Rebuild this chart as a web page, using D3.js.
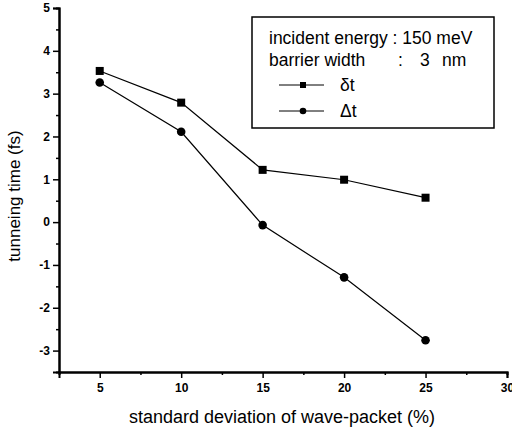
<!DOCTYPE html>
<html>
<head>
<meta charset="utf-8">
<script src="https://cdn.jsdelivr.net/npm/d3@7"></script>
<style>
body { margin: 0; background: #fff; }
svg { font-family: "Liberation Sans", Arial, sans-serif; }
</style>
</head>
<body>
<script>
// values
var deviation = [5, 10, 15, 20, 25];
var deltaSmall = [3.53, 2.79, 1.22, 0.99, 0.57];   // δt, squares
var deltaBig = [3.26, 2.11, -0.07, -1.29, -2.76];  // Δt, circles
var xTicks = [5, 10, 15, 20, 25, 30];
var yTicks = [-3, -2, -1, 0, 1, 2, 3, 4, 5];
var legendLines = ["incident energy : 150 meV", "barrier width"];

var width = 512, height = 434;
var svg = d3.select("body").append("svg")
    .attr("width", width)
    .attr("height", height);

var x = d3.scaleLinear().domain([2.5, 30]).range([59, 507]);
var y = d3.scaleLinear().domain([-3.5, 5]).range([372, 8]);

var fmt = function(d) { return String(d); }; // plain hyphen for negatives

// axes
svg.append("g")
    .attr("transform", "translate(0," + y(-3.5) + ")")
    .call(d3.axisBottom(x).tickValues(xTicks).tickSize(6).tickPadding(5).tickFormat(fmt));
svg.append("g")
    .attr("transform", "translate(0," + y(-3.5) + ")")
    .call(d3.axisBottom(x).tickValues(d3.range(7.5, 30, 5)).tickSize(3).tickFormat(""));
svg.append("g")
    .attr("transform", "translate(" + x(2.5) + ",0)")
    .call(d3.axisLeft(y).tickValues(yTicks).tickSize(6).tickPadding(3).tickFormat(fmt));
svg.append("g")
    .attr("transform", "translate(" + x(2.5) + ",0)")
    .call(d3.axisLeft(y).tickValues(d3.range(-2.5, 5, 1)).tickSize(3).tickFormat(""));

svg.selectAll(".domain").attr("stroke", "#000").attr("stroke-width", 2);
svg.selectAll(".tick line").attr("stroke", "#000").attr("stroke-width", 1.5);
svg.selectAll(".tick text")
    .attr("fill", "#000")
    .style("font-size", "12px")
    .style("font-weight", "bold");

// axis titles
svg.append("text")
    .attr("x", 282).attr("y", 423)
    .attr("text-anchor", "middle")
    .style("font-size", "18px")
    .text("standard deviation of wave-packet (%)");
svg.append("text")
    .attr("transform", "translate(20,196) rotate(-90)")
    .attr("text-anchor", "middle")
    .style("font-size", "17px")
    .text("tunneing time (fs)");

// series
var line = d3.line()
    .x(function(d) { return x(d[0]); })
    .y(function(d) { return y(d[1]); });
var sq = d3.zip(deviation, deltaSmall);
var ci = d3.zip(deviation, deltaBig);

svg.append("path").datum(sq)
    .attr("d", line).attr("fill", "none")
    .attr("stroke", "#000").attr("stroke-width", 1.2);
svg.append("path").datum(ci)
    .attr("d", line).attr("fill", "none")
    .attr("stroke", "#000").attr("stroke-width", 1.2);

svg.selectAll(".sq").data(sq).enter().append("rect")
    .attr("x", function(d) { return x(d[0]) - 4; })
    .attr("y", function(d) { return y(d[1]) - 4; })
    .attr("width", 8).attr("height", 8)
    .attr("fill", "#000");
svg.selectAll(".ci").data(ci).enter().append("circle")
    .attr("cx", function(d) { return x(d[0]); })
    .attr("cy", function(d) { return y(d[1]); })
    .attr("r", 4.3)
    .attr("fill", "#000");

// legend box
var lg = svg.append("g");
lg.append("rect")
    .attr("x", 252).attr("y", 17)
    .attr("width", 242).attr("height", 111)
    .attr("fill", "#fff").attr("stroke", "#000").attr("stroke-width", 1.5);
lg.selectAll(".lt").data(legendLines).enter().append("text")
    .attr("x", 269)
    .attr("y", function(d, i) { return 44 + i * 22; })
    .style("font-size", "17.5px")
    .text(function(d) { return d; });
lg.append("text").attr("x", 398).attr("y", 66).style("font-size", "17.5px").text(":");
lg.append("text").attr("x", 420).attr("y", 66).style("font-size", "17.5px").text("3");
lg.append("text").attr("x", 442).attr("y", 66).style("font-size", "17.5px").text("nm");

var legendSeries = [{label: "δt", shape: "square"}, {label: "Δt", shape: "circle"}];
legendSeries.forEach(function(s, i) {
    var cy = 85 + i * 26;
    lg.append("line")
        .attr("x1", 279).attr("x2", 324)
        .attr("y1", cy).attr("y2", cy)
        .attr("stroke", "#000").attr("stroke-width", 1);
    if (s.shape === "square") {
        lg.append("rect").attr("x", 300).attr("y", cy - 3).attr("width", 6).attr("height", 6);
    } else {
        lg.append("circle").attr("cx", 303).attr("cy", cy).attr("r", 3.3);
    }
    lg.append("text")
        .attr("x", 340).attr("y", cy + 6)
        .style("font-size", "17.5px")
        .text(s.label);
});
</script>
</body>
</html>
